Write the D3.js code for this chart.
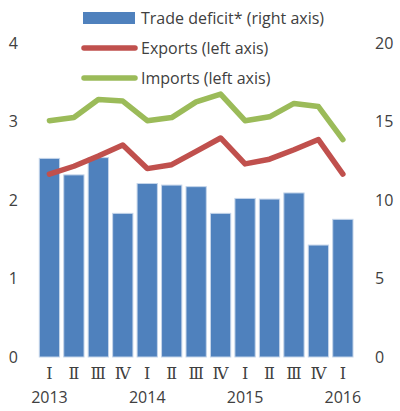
<!DOCTYPE html>
<html><head><meta charset="utf-8">
<script src="https://cdn.jsdelivr.net/npm/d3@7/dist/d3.min.js"></script>
<style>body{margin:0;background:#fff}svg{display:block}text{font-family:"Open Sans",sans-serif;fill:#404040}</style>
</head><body><svg id="c" width="400" height="411"></svg>
<script>
const quarters = ["Ⅰ","Ⅱ","Ⅲ","Ⅳ","Ⅰ","Ⅱ","Ⅲ","Ⅳ","Ⅰ","Ⅱ","Ⅲ","Ⅳ","Ⅰ"];
const years = ["2013","","","","2014","","","","2015","","","","2016"];
const deficit = [12.65,11.6,12.7,9.15,11.05,10.95,10.85,9.15,10.1,10.06,10.45,7.13,8.77];
const exportsS = [2.33,2.43,2.56,2.70,2.40,2.45,2.62,2.79,2.46,2.52,2.64,2.77,2.33];
const importsS = [3.01,3.05,3.28,3.26,3.01,3.05,3.25,3.35,3.01,3.06,3.23,3.19,2.77];
const leftTicks = [0,1,2,3,4];
const rightTicks = [0,5,10,15,20];
const legendItems = ["Trade deficit* (right axis)","Exports (left axis)","Imports (left axis)"];

const svg = d3.select("#c");
const idx = d3.range(quarters.length);
const x = d3.scaleBand().domain(idx).range([37.2,355.1]).paddingInner(0.17).paddingOuter(0.085);
const yL = d3.scaleLinear().domain([0,4]).range([357,43]);
const yR = d3.scaleLinear().domain([0,20]).range([357,43]);

svg.append("g").selectAll("rect").data(deficit).join("rect")
  .attr("x",(d,i)=>x(i)).attr("width",x.bandwidth())
  .attr("y",d=>yR(d)).attr("height",d=>yR(0)-yR(d))
  .attr("fill","#4F81BD").attr("stroke","#c5d5ea").attr("stroke-width",1);

const line = yS => d3.line().x((d,i)=>x(i)+x.bandwidth()/2).y(d=>yS(d));
svg.append("path").datum(exportsS).attr("d",line(yL)).attr("fill","none")
  .attr("stroke","#C0504D").attr("stroke-width",5.5).attr("stroke-linejoin","round").attr("stroke-linecap","round");
svg.append("path").datum(importsS).attr("d",line(yL)).attr("fill","none")
  .attr("stroke","#9BBB59").attr("stroke-width",5.5).attr("stroke-linejoin","round").attr("stroke-linecap","round");

// axes
const gL = svg.append("g").attr("transform","translate(18,0)")
  .call(d3.axisLeft(yL).tickValues(leftTicks).tickFormat(d3.format("d")).tickSize(0).tickPadding(0));
const gR = svg.append("g").attr("transform","translate(375,0)")
  .call(d3.axisRight(yR).tickValues(rightTicks).tickFormat(d3.format("d")).tickSize(0).tickPadding(0));
[gL,gR].forEach(g=>{g.select(".domain").remove();
  g.selectAll("text").style("font-size","16px").style("font-family","'Open Sans',sans-serif").attr("fill","#404040");});

const gx = svg.append("g").attr("transform","translate(0,368)")
  .call(d3.axisBottom(x).tickFormat(i=>quarters[i]).tickSize(0).tickPadding(0));
gx.select(".domain").remove();
gx.selectAll("text").style("font-size","16px").style("font-family","'DejaVu Serif',serif").attr("fill","#404040");

const gy = svg.append("g").attr("transform","translate(0,392)")
  .call(d3.axisBottom(x).tickFormat(i=>years[i]).tickSize(0).tickPadding(0));
gy.select(".domain").remove();
gy.selectAll("text").style("font-size","16px").style("font-family","'Open Sans',sans-serif").attr("fill","#404040");

// legend
const lg = svg.append("g");
const ly = [18,48,78];
lg.append("rect").attr("x",83).attr("y",12).attr("width",52).attr("height",12).attr("fill","#4F81BD");
lg.append("line").attr("x1",84).attr("x2",135).attr("y1",ly[1]).attr("y2",ly[1]).attr("stroke","#C0504D").attr("stroke-width",5.5).attr("stroke-linecap","round");
lg.append("line").attr("x1",84).attr("x2",135).attr("y1",ly[2]).attr("y2",ly[2]).attr("stroke","#9BBB59").attr("stroke-width",5.5).attr("stroke-linecap","round");
lg.selectAll("text").data(legendItems).join("text")
  .attr("x",141).attr("y",(d,i)=>ly[i]).attr("dy","0.35em")
  .style("font-size","16px").text(d=>d);
</script></body></html>
